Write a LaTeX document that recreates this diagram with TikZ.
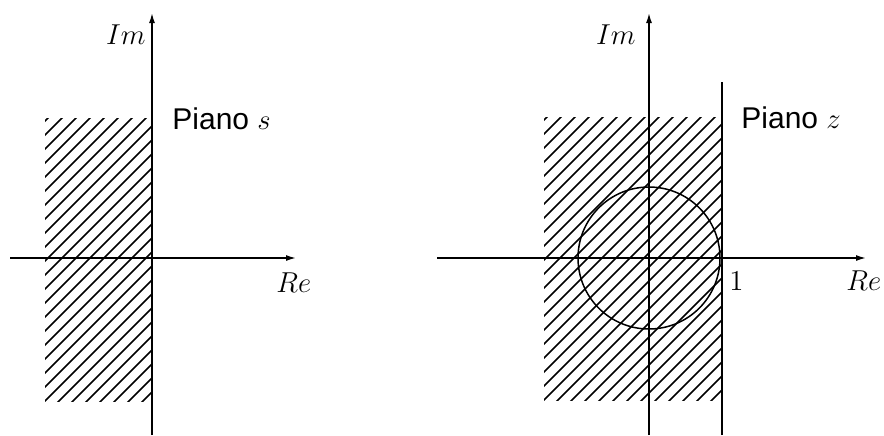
\documentclass[tikz,border=0pt]{standalone}
\usepackage{fontspec}
\newfontfamily\pianofont{Liberation Sans}
\usetikzlibrary{arrows.meta}
\tikzset{
  axis/.style={line width=0.75pt,-{Latex[length=5pt,width=3pt]}},
  plainline/.style={line width=0.75pt},
  hatchline/.style={line width=0.75pt},
  mathlbl/.style={inner sep=0pt,font=\fontsize{15.5}{18}\selectfont},
  sanslbl/.style={inner sep=0pt,font=\fontsize{15}{18}\selectfont\pianofont},
}
\begin{document}
\begin{tikzpicture}[x=0.5pt,y=-0.5pt]
\useasboundingbox (0,0) rectangle (884,435);
% ---- left panel: hatching (lines x+y=c)
\begin{scope}
  \clip (45,118) rectangle (152,401);
  \foreach \c in {166,180,...,560} {
    \draw[hatchline] (\c,0) -- (\c-435,435);
  }
\end{scope}
% ---- left panel: axes
\coordinate (ls) at (152,435);
\coordinate (ln) at (152,13);
\coordinate (lw) at (10,258);
\coordinate (le) at (296,258);
\draw[axis] (ls) -- (ln);
\draw[axis] (lw) -- (le);
\node[mathlbl,anchor=base east] (lim) at (146,44) {$Im$};
\node[mathlbl,anchor=base west] (lre) at (276,292) {$Re$};
\node[sanslbl,anchor=base west] (lpiano) at (172,129) {Piano $s$};
% ---- right panel: hatching
\begin{scope}
  \clip (544,117) rectangle (722,400);
  \foreach \c in {664,678,...,1130} {
    \draw[hatchline] (\c,0) -- (\c-435,435);
  }
\end{scope}
% ---- right panel: axes, line and circle
\coordinate (rs) at (649,435);
\coordinate (rn) at (649,13);
\coordinate (rw) at (437,258);
\coordinate (re) at (866,258);
\coordinate (vt) at (722,82);
\coordinate (vb) at (722,435);
\coordinate (cc) at (649,258);
\draw[axis] (rs) -- (rn);
\draw[axis] (rw) -- (re);
\draw[plainline] (vb) -- (vt);
\draw[plainline] (cc) circle[radius=71];
\node[mathlbl,anchor=base east] (rim) at (636,44) {$Im$};
\node[mathlbl,anchor=base west] (rre) at (846,290) {$Re$};
\node[mathlbl,anchor=base west] (rone) at (729,290) {$1$};
\node[sanslbl,anchor=base west] (rpiano) at (741,128) {Piano $z$};
\end{tikzpicture}
\end{document}
